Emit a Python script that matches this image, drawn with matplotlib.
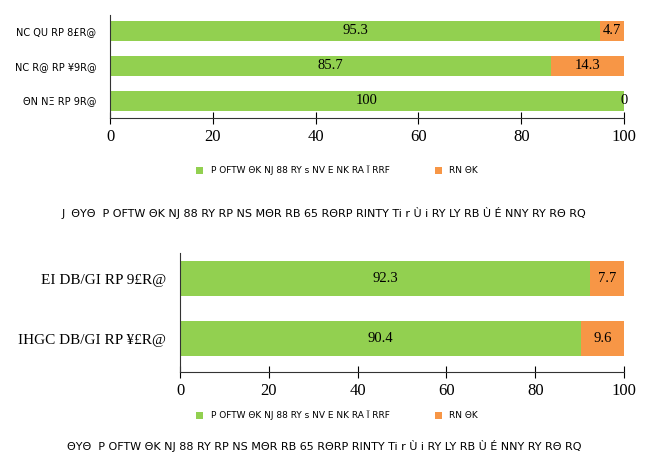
import numpy as np
import matplotlib
matplotlib.use("Agg")
import matplotlib.pyplot as plt

# top chart
top_rows = ["NC QU RP 8£R@", "NC R@ RP ¥9R@", "ΘN NΞ RP 9R@"]
top_green = [95.3, 85.7, 100.0]
top_orange = [4.7, 14.3, 0.0]

# bottom chart
bot_rows = ["EI DB/GI RP 9£R@", "IHGC DB/GI RP ¥£R@"]
bot_green = [92.3, 90.4]
bot_orange = [7.7, 9.6]

x_ticks = [0, 20, 40, 60, 80, 100]
legend_names = ["P OFTW ΘK NJ 88 RY s NV E NK RA Ï RRF", "RN ΘK"]
title_top = "J  ΘYΘ  P OFTW ΘK NJ 88 RY RP NS MΘR RB 65 RΘRP RINTY Ti r Ù i RY LY RB Ù É NNY RY RΘ RQ"
title_bot = "ΘYΘ  P OFTW ΘK NJ 88 RY RP NS MΘR RB 65 RΘRP RINTY Ti r Ù i RY LY RB Ù É NNY RY RΘ RQ"

GREEN = "#92D050"
ORANGE = "#F79646"
serif = ["Liberation Serif", "DejaVu Serif"]
sans = ["DejaVu Sans Condensed", "DejaVu Sans"]

fig = plt.figure(figsize=(6.48, 4.54), dpi=100)


def draw(ax, rows, green, orange, height, label_size, label_family):
    y = np.arange(len(rows))
    bg = ax.barh(y, green, height=height, color=GREEN)
    bo = ax.barh(y, orange, left=green, height=height, color=ORANGE)
    for i in range(len(rows)):
        ax.text(green[i] / 2, y[i], f"{green[i]:g}", ha="center", va="center",
                fontsize=10.5, family=serif)
        if orange[i] > 0:
            ax.text(green[i] + orange[i] / 2, y[i], f"{orange[i]:g}", ha="center",
                    va="center", fontsize=10.5, family=serif)
        else:
            ax.text(100, y[i], "0", ha="center", va="center", fontsize=10.5, family=serif)
    ax.set_yticks(y)
    ax.set_yticklabels(rows, fontsize=label_size, family=label_family)
    ax.set_xlim(0, 100)
    ax.set_xticks(x_ticks)
    ax.set_xticklabels([str(t) for t in x_ticks], fontsize=12, family=serif)
    ax.tick_params(axis="y", length=0, pad=10)
    ax.tick_params(axis="x", direction="inout", length=8, pad=4)
    for s in ["top", "right"]:
        ax.spines[s].set_visible(False)
    ax.spines["left"].set_color("#333333")
    ax.spines["bottom"].set_color("#333333")
    return bg, bo


ax1 = fig.add_axes([0.17, 0.74, 0.793, 0.227])
b1 = draw(ax1, top_rows, top_green, top_orange, 0.57, 7, sans)
ax1.set_ylim(2.5, -0.45)

ax2 = fig.add_axes([0.278, 0.181, 0.685, 0.262])
b2 = draw(ax2, bot_rows, bot_green, bot_orange, 0.58, 11, serif)
ax2.set_ylim(1.55, -0.43)

for handles, ypos in [(b1, 0.625), (b2, 0.085)]:
    fig.legend(handles, legend_names, loc="center", bbox_to_anchor=(0.52, ypos),
               ncol=2, frameon=False, handlelength=0.8, handleheight=0.8,
               columnspacing=5, prop={"family": sans, "size": 6.5})

fig.text(0.5, 0.53, title_top, ha="center", va="center", fontsize=8, family=sans)
fig.text(0.5, 0.004, title_bot, ha="center", va="bottom", fontsize=8, family=sans)

fig.savefig("out.png", dpi=100)
